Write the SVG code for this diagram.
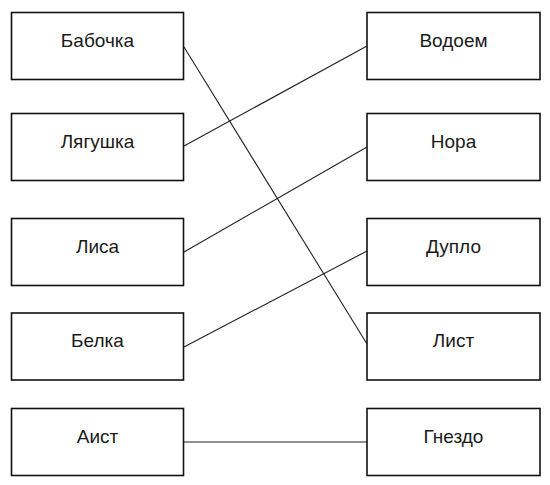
<svg xmlns="http://www.w3.org/2000/svg" width="550" height="485" viewBox="0 0 550 485">
<style>
.box{fill:#fff;stroke:#111;stroke-width:1.6}
.lbl{font-family:"Liberation Sans",Arial,sans-serif;font-size:19px;fill:#1a1a1a;text-anchor:middle}
.con line{stroke:#222;stroke-width:1.1}
</style>
<rect width="550" height="485" fill="#fff"/>
<g class="con" id="connectors">
<line x1="184" y1="47" x2="367" y2="344"/>
<line x1="184" y1="146" x2="367" y2="46"/>
<line x1="184" y1="252" x2="367" y2="147"/>
<line x1="184" y1="347" x2="367" y2="251"/>
<line x1="184" y1="442" x2="367" y2="442"/>
</g>
<g id="n-babochka"><rect class="box" x="11.5" y="12.5" width="172" height="67"/><text class="lbl" x="97.5" y="46.5">Бабочка</text></g>
<g id="n-lyagushka"><rect class="box" x="11.5" y="113.5" width="172" height="67"/><text class="lbl" x="97.5" y="147.5">Лягушка</text></g>
<g id="n-lisa"><rect class="box" x="11.5" y="218.5" width="172" height="67"/><text class="lbl" x="97.5" y="252.5">Лиса</text></g>
<g id="n-belka"><rect class="box" x="11.5" y="313" width="172" height="67"/><text class="lbl" x="97.5" y="347">Белка</text></g>
<g id="n-aist"><rect class="box" x="11.5" y="408.5" width="172" height="67"/><text class="lbl" x="97.5" y="442.5">Аист</text></g>
<g id="n-vodoem"><rect class="box" x="367" y="12.5" width="173" height="67"/><text class="lbl" x="453.5" y="46.5">Водоем</text></g>
<g id="n-nora"><rect class="box" x="367" y="113.5" width="173" height="67"/><text class="lbl" x="453.5" y="147.5">Нора</text></g>
<g id="n-duplo"><rect class="box" x="367" y="218.5" width="173" height="67"/><text class="lbl" x="453.5" y="252.5">Дупло</text></g>
<g id="n-list"><rect class="box" x="367" y="313" width="173" height="67"/><text class="lbl" x="453.5" y="347">Лист</text></g>
<g id="n-gnezdo"><rect class="box" x="367" y="408.5" width="173" height="67"/><text class="lbl" x="453.5" y="442.5">Гнездо</text></g>
</svg>
